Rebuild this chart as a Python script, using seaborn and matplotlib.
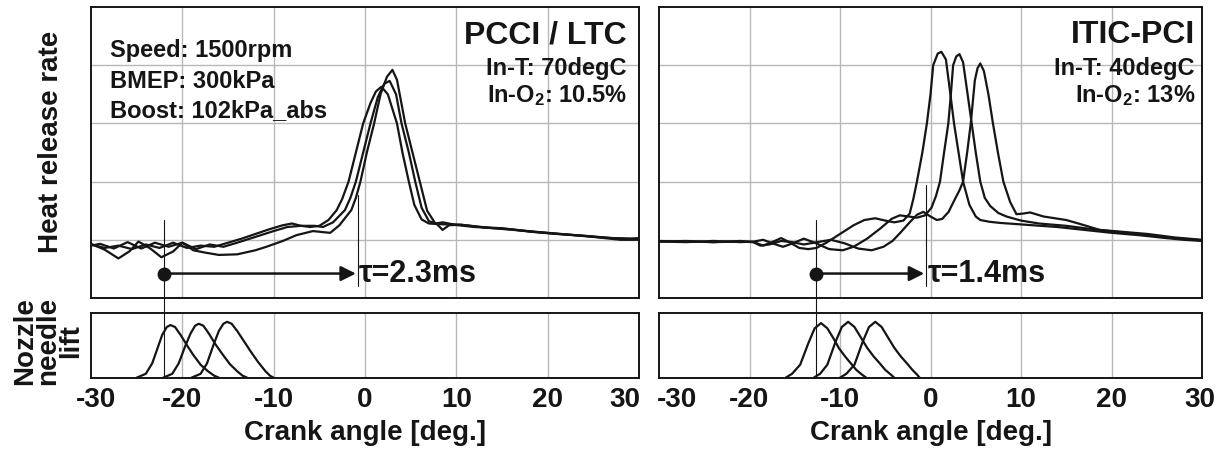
import matplotlib
matplotlib.use("Agg")
import matplotlib.pyplot as plt
import matplotlib.transforms as mtransforms
import pandas as pd
import seaborn as sns

# heat release rate traces, (crank angle deg, grid units)
pcci_hrr_a = [(-30, 0.92), (-28.5, 0.86), (-27, 0.9), (-25.5, 0.84), (-24, 0.92), (-22.5, 0.86),
              (-21, 0.95), (-19.5, 0.86), (-18, 0.9), (-16.5, 0.88), (-15, 0.95), (-13.5, 1.02),
              (-12, 1.1), (-10.5, 1.18), (-9, 1.25), (-8, 1.28), (-7, 1.24), (-6, 1.22), (-5, 1.24),
              (-4, 1.34), (-3.1, 1.51), (-2.5, 1.7), (-1.8, 2.0), (-1.0, 2.5), (-0.2, 3.0), (0.6, 3.35),
              (1.2, 3.55), (1.8, 3.63), (2.5, 3.5), (3.5, 3.0), (4.1, 2.5), (4.8, 2.0), (5.4, 1.6),
              (6.2, 1.35), (7.0, 1.28), (8.0, 1.27), (9.6, 1.26), (12, 1.22), (15, 1.2), (18, 1.14),
              (21, 1.1), (24, 1.07), (27, 1.03), (30, 1.02)]
pcci_hrr_b = [(-30, 0.9), (-29, 0.93), (-27.5, 0.85), (-26, 0.96), (-24.5, 0.85), (-23, 0.95),
              (-21.5, 0.88), (-20, 0.95), (-18.5, 0.84), (-17, 0.92), (-15.5, 0.88), (-14, 0.95),
              (-12, 1.05), (-10, 1.15), (-8.5, 1.22), (-7, 1.24), (-5.5, 1.24), (-4.6, 1.22),
              (-3.5, 1.3), (-2.2, 1.51), (-1.6, 1.72), (-1.0, 2.0), (-0.2, 2.5), (0.6, 3.0), (1.4, 3.45),
              (2.1, 3.68), (2.7, 3.73), (3.4, 3.5), (4.0, 3.0), (4.8, 2.5), (5.5, 2.0), (6.2, 1.55),
              (7.0, 1.32), (7.8, 1.28), (8.5, 1.17), (9.2, 1.25), (10.5, 1.26), (13, 1.21), (16, 1.18),
              (19, 1.13), (22, 1.09), (25, 1.05), (28, 1.0), (30, 1.0)]
pcci_hrr_c = [(-30, 0.93), (-28.5, 0.83), (-27, 0.68), (-25.8, 0.8), (-24.8, 0.97), (-23.5, 0.85),
              (-22.3, 0.7), (-21, 0.8), (-20, 0.95), (-18.8, 0.82), (-17.5, 0.78), (-16, 0.74),
              (-14, 0.75), (-12, 0.82), (-10.8, 0.88), (-9, 0.98), (-7.5, 1.08), (-5.7, 1.15),
              (-4.5, 1.13), (-3.8, 1.12), (-2.8, 1.25), (-1.5, 1.51), (-1.0, 1.72), (-0.5, 2.0),
              (0.2, 2.5), (1.0, 3.0), (1.7, 3.5), (2.4, 3.8), (3.0, 3.92), (3.5, 3.75), (4.4, 3.0),
              (5.2, 2.5), (6.0, 2.0), (6.8, 1.5), (7.7, 1.28), (8.5, 1.3), (9.5, 1.27), (11, 1.25),
              (14, 1.2), (17, 1.16), (20, 1.12), (23, 1.08), (26, 1.04), (29, 1.01), (30, 1.03)]

itic_hrr_a = [(-30, 0.97), (-27, 0.98), (-24, 0.96), (-21, 0.98), (-19.5, 0.96), (-18.5, 0.9),
              (-17.5, 0.96), (-16.5, 1.03), (-15.5, 0.95), (-14.5, 0.86), (-13.5, 0.84), (-12.6, 0.86),
              (-11.5, 0.95), (-10, 1.1), (-8.5, 1.25), (-7.3, 1.34), (-6.1, 1.37), (-5, 1.33), (-4, 1.3),
              (-3, 1.33), (-2.3, 1.45), (-1.9, 1.7), (-1.5, 2.0), (-0.9, 2.5), (-0.4, 3.0), (0.0, 3.5),
              (0.3, 4.0), (0.8, 4.2), (1.2, 4.23), (1.7, 4.1), (2.2, 3.5), (2.6, 3.0), (3.1, 2.5),
              (3.6, 2.0), (4.3, 1.6), (5.0, 1.4), (5.5, 1.34), (6.5, 1.31), (7.7, 1.29), (9.5, 1.27),
              (11.3, 1.25), (14, 1.22), (17, 1.17), (20, 1.12), (23, 1.08), (26, 1.03), (28, 1.0),
              (30, 0.98)]
itic_hrr_b = [(-30, 0.97), (-27, 0.96), (-24, 0.98), (-21, 0.96), (-19.5, 0.97), (-18.5, 1.0),
              (-17.3, 0.93), (-16.3, 0.88), (-15.2, 0.94), (-14, 1.02), (-12.8, 0.95), (-11.2, 0.84),
              (-9.7, 0.82), (-8.5, 0.88), (-7, 1.02), (-5.5, 1.2), (-4.3, 1.36), (-3.4, 1.42),
              (-2.4, 1.4), (-1.5, 1.38), (-0.6, 1.42), (0.1, 1.55), (0.6, 1.75), (1.05, 2.0), (1.5, 2.5),
              (1.97, 3.0), (2.25, 3.5), (2.5, 4.0), (2.85, 4.15), (3.2, 4.19), (3.6, 4.05), (4.1, 3.5),
              (4.55, 3.0), (5.0, 2.5), (5.5, 2.0), (6.0, 1.72), (6.6, 1.58), (7.5, 1.46), (8.4, 1.4),
              (10, 1.33), (12, 1.28), (15, 1.24), (18, 1.18), (21, 1.13), (24, 1.08), (27, 1.03),
              (30, 0.99)]
itic_hrr_c = [(-30, 0.98), (-27, 0.97), (-24, 0.96), (-21, 0.97), (-19.6, 0.96), (-18.8, 0.9),
              (-17.8, 0.92), (-16.5, 0.98), (-15.3, 0.96), (-14, 0.92), (-12.5, 0.96), (-11, 1.0),
              (-9.5, 0.94), (-8, 0.85), (-6.5, 0.82), (-5.2, 0.88), (-4.2, 0.98), (-3.4, 1.11),
              (-2.3, 1.3), (-1.5, 1.43), (-0.8, 1.48), (0.0, 1.4), (0.7, 1.34), (1.3, 1.36), (2.0, 1.48),
              (2.7, 1.7), (3.2, 1.85), (3.6, 2.0), (4.05, 2.5), (4.45, 3.0), (4.9, 3.74), (5.2, 3.95),
              (5.5, 4.03), (5.9, 3.9), (6.4, 3.5), (6.9, 3.0), (7.45, 2.5), (8.05, 2.0), (8.8, 1.65),
              (9.5, 1.44), (10.2, 1.45), (11.0, 1.47), (12.5, 1.4), (15, 1.34), (17, 1.25), (18.7, 1.17),
              (21, 1.14), (24, 1.1), (27, 1.04), (30, 1.0)]

# nozzle needle lift, (crank angle deg, fraction of lower panel)
pcci_lift_a = [(-25.0, 0.0), (-24.0, 0.06), (-23.3, 0.22), (-22.7, 0.46), (-22.2, 0.66), (-21.7, 0.78),
               (-21.3, 0.81), (-20.8, 0.78), (-20.2, 0.66), (-19.5, 0.5), (-18.8, 0.35), (-18.0, 0.2),
               (-17.2, 0.1), (-16.5, 0.03), (-16.0, 0.0)]
pcci_lift_b = [(-22.1, 0.0), (-21.1, 0.06), (-20.4, 0.22), (-19.7, 0.48), (-19.1, 0.68), (-18.6, 0.8),
               (-18.2, 0.83), (-17.7, 0.8), (-17.1, 0.68), (-16.4, 0.52), (-15.6, 0.36), (-14.8, 0.21),
               (-14.0, 0.1), (-13.4, 0.03), (-12.9, 0.0)]
pcci_lift_c = [(-19.0, 0.0), (-18.0, 0.06), (-17.3, 0.22), (-16.6, 0.5), (-16.0, 0.72), (-15.5, 0.83),
               (-15.1, 0.86), (-14.6, 0.83), (-14.0, 0.72), (-13.2, 0.55), (-12.5, 0.4), (-11.7, 0.24),
               (-10.9, 0.1), (-10.4, 0.03), (-10.0, 0.0)]
itic_lift_a = [(-16.0, 0.0), (-15.3, 0.06), (-14.4, 0.2), (-13.5, 0.53), (-12.8, 0.76), (-12.1, 0.84),
               (-11.4, 0.76), (-10.7, 0.6), (-10.1, 0.45), (-9.4, 0.32), (-8.8, 0.22), (-8.2, 0.12),
               (-7.6, 0.05), (-7.1, 0.0)]
itic_lift_b = [(-12.9, 0.0), (-12.2, 0.06), (-11.4, 0.2), (-10.5, 0.55), (-9.8, 0.78), (-9.1, 0.86),
               (-8.4, 0.78), (-7.7, 0.62), (-7.0, 0.46), (-6.3, 0.33), (-5.6, 0.22), (-5.0, 0.12),
               (-4.4, 0.05), (-4.0, 0.0)]
itic_lift_c = [(-10.0, 0.0), (-9.3, 0.06), (-8.4, 0.2), (-7.5, 0.55), (-6.8, 0.78), (-6.1, 0.86),
               (-5.4, 0.78), (-4.7, 0.62), (-4.0, 0.46), (-3.3, 0.33), (-2.6, 0.22), (-2.0, 0.12),
               (-1.5, 0.05), (-1.2, 0.0)]

# start of injection and ignition, crank angle deg
pcci_soi, pcci_ign = -22.0, -0.8
itic_soi, itic_ign = -12.6, -0.5
pcci_tau = "τ=2.3ms"
itic_tau = "τ=1.4ms"

ca_ticks = [-30, -20, -10, 0, 10, 20, 30]
hrr_grid = [1, 2, 3, 4]

sns.set_theme(style="white")
plt.rcParams["font.family"] = ["Liberation Sans", "DejaVu Sans"]
plt.rcParams["font.weight"] = "bold"
plt.rcParams["axes.unicode_minus"] = False
plt.rcParams["mathtext.fontset"] = "custom"
plt.rcParams["mathtext.rm"] = "Liberation Sans:bold"
plt.rcParams["mathtext.bf"] = "Liberation Sans:bold"
plt.rcParams["mathtext.default"] = "rm"

INK = "#151515"
GRID = "#b8b8b8"

panels = [
    dict(left=91, right=639, hrr=[pcci_hrr_a, pcci_hrr_b, pcci_hrr_c],
         lift=[pcci_lift_a, pcci_lift_b, pcci_lift_c], soi=pcci_soi, ign=pcci_ign, tau=pcci_tau,
         title="PCCI / LTC", cond=["In-T: 70degC", "In-O$_2$: 10.5%"], edge_shift=(5, -14)),
    dict(left=659, right=1202, hrr=[itic_hrr_a, itic_hrr_b, itic_hrr_c],
         lift=[itic_lift_a, itic_lift_b, itic_lift_c], soi=itic_soi, ign=itic_ign, tau=itic_tau,
         title="ITIC-PCI", cond=["In-T: 40degC", "In-O$_2$: 13%"], edge_shift=(18, -2)),
]

W, H = 1220, 450
fig = plt.figure(figsize=(W / 100, H / 100), dpi=100)


def style_axes(ax, ymax, hgrid):
    ax.set_xlim(ca_ticks[0], ca_ticks[-1])
    ax.set_ylim(0, ymax)
    ax.set_xticks(ca_ticks)
    ax.set_yticks([])
    for v in ca_ticks[1:-1]:
        ax.axvline(v, color=GRID, lw=1.0, zorder=0)
    for v in hgrid:
        ax.axhline(v, color=GRID, lw=1.0, zorder=0)
    for s in ax.spines.values():
        s.set_color(INK)
        s.set_linewidth(1.4)
    ax.grid(False)


for i, p in enumerate(panels):
    x0 = p["left"] / W
    w = (p["right"] - p["left"]) / W
    ax = fig.add_axes([x0, 1 - 298 / H, w, 291 / H])
    axl = fig.add_axes([x0, 1 - 377.7 / H, w, 65 / H])

    style_axes(ax, 5, hrr_grid)
    style_axes(axl, 1, [])
    ax.tick_params(axis="x", length=0, labelbottom=False)
    axl.tick_params(axis="x", length=0, pad=7, labelsize=20, colors=INK)

    for tr in p["hrr"]:
        df = pd.DataFrame(tr, columns=["ca", "hrr"])
        sns.lineplot(data=df, x="ca", y="hrr", ax=ax, color=INK, lw=1.6, estimator=None, sort=False)
    for tr in p["lift"]:
        df = pd.DataFrame(tr, columns=["ca", "lift"])
        sns.lineplot(data=df, x="ca", y="lift", ax=axl, color=INK, lw=1.6, estimator=None,
                     sort=False, clip_on=False)
    ax.set_ylabel("")
    axl.set_ylabel("")
    ax.set_xlabel("")
    axl.set_xlabel("Crank angle [deg.]", fontsize=20, fontweight="bold", labelpad=5, color=INK)

    # edge tick labels are nudged inward in the original
    ticks = axl.xaxis.get_major_ticks()
    for tk, dx in ((ticks[0], p["edge_shift"][0]), (ticks[-1], p["edge_shift"][1])):
        tk.label1.set_transform(tk.label1.get_transform() +
                                mtransforms.ScaledTranslation(dx / 100, 0, fig.dpi_scale_trans))

    # injection start / ignition markers
    ax.axvline(p["soi"], ymin=0, ymax=1.34 / 5, color=INK, lw=0.8)
    axl.axvline(p["soi"], ymin=0, ymax=1.23, color=INK, lw=0.8, clip_on=False)
    ax.axvline(p["ign"], ymin=0.2 / 5, ymax=(1.77 if i == 0 else 1.94) / 5, color=INK, lw=0.8)
    ax.annotate("", xy=(p["ign"] - 0.2, 0.42), xytext=(p["soi"], 0.42),
                arrowprops=dict(arrowstyle="-|>,head_length=0.6,head_width=0.3",
                                color=INK, lw=1.8, mutation_scale=15, shrinkA=0, shrinkB=0))
    ax.plot([p["soi"]], [0.42], "o", color=INK, ms=9)
    ax.text(p["ign"] + 0.15, 0.42, p["tau"], fontsize=22, fontweight="bold", color=INK,
            ha="left", va="center")

    # case labels
    xr = 0.978 if i == 0 else 0.987
    ax.text(xr, 0.876, p["title"], transform=ax.transAxes, ha="right", va="baseline",
            fontsize=23, fontweight="bold", color=INK)
    ax.text(xr, 0.766, p["cond"][0], transform=ax.transAxes, ha="right", va="baseline",
            fontsize=17, fontweight="bold", color=INK)
    ax.text(xr, 0.674, p["cond"][1], transform=ax.transAxes, ha="right", va="baseline",
            fontsize=17, fontweight="bold", color=INK)

    if i == 0:
        for txt, yb in zip(["Speed: 1500rpm", "BMEP: 300kPa", "Boost: 102kPa_abs"],
                           [0.828, 0.722, 0.622]):
            ax.text(0.035, yb, txt, transform=ax.transAxes, ha="left", va="baseline",
                    fontsize=17, fontweight="bold", color=INK)

fig.text(51 / W, 1 - 142 / H, "Heat release rate", rotation=90, ha="center", va="center",
         fontsize=20, fontweight="bold", color=INK)
fig.text(48 / W, 1 - 341 / H, "Nozzle\nneedle\nlift", rotation=90, ha="center", va="center",
         multialignment="center", linespacing=0.85, fontsize=20, fontweight="bold", color=INK)

fig.savefig("out.png", dpi=100)
